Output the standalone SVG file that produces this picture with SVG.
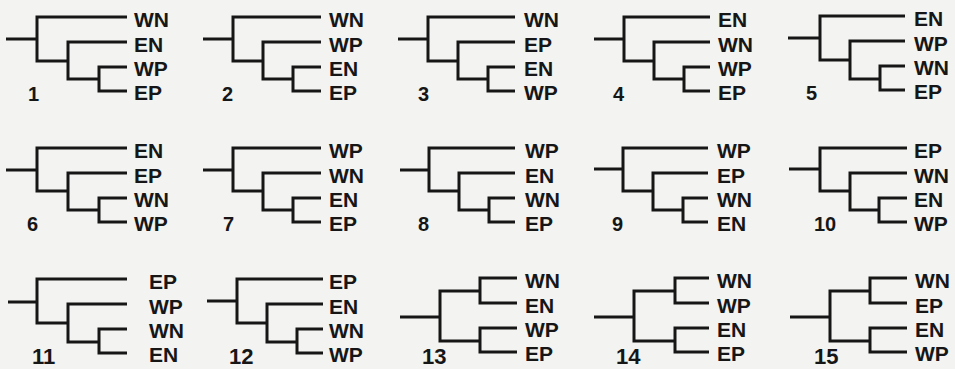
<svg xmlns="http://www.w3.org/2000/svg" width="955" height="369" viewBox="0 0 955 369">
<style>
.bg{fill:#f3f3f1}
.br{fill:none;stroke:#161616;stroke-width:3;stroke-linecap:butt;stroke-linejoin:miter}
.lb{font-family:"Liberation Sans",Arial,sans-serif;font-weight:bold;font-size:21px;fill:#161616}
.nm{font-family:"Liberation Sans",Arial,sans-serif;font-weight:bold;font-size:20px;fill:#161616}
.nm3{font-family:"Liberation Sans",Arial,sans-serif;font-weight:bold;font-size:22px;fill:#161616}
</style>
<rect class="bg" x="0" y="0" width="955" height="369"/>

<!-- Tree 1 -->
<g id="tree1">
<g class="connectors"><path class="br" d="M6 39H37M127 17H37V61H68M127 42H68V79H99M127 67H99V91H127"/></g>
<text class="lb" x="134" y="27">WN</text><text class="lb" x="134" y="52">EN</text><text class="lb" x="134" y="76">WP</text><text class="lb" x="134" y="100">EP</text>
<text class="nm" x="28" y="101">1</text>
</g>

<!-- Tree 2 -->
<g id="tree2">
<g class="connectors"><path class="br" d="M203 39H233M321 17H233V61H263M321 42H263V79H293M321 67H293V91H321"/></g>
<text class="lb" x="329" y="27">WN</text><text class="lb" x="329" y="52">WP</text><text class="lb" x="329" y="76">EN</text><text class="lb" x="329" y="100">EP</text>
<text class="nm" x="222" y="101">2</text>
</g>

<!-- Tree 3 -->
<g id="tree3">
<g class="connectors"><path class="br" d="M398 39H428M515 17H428V61H458M515 42H458V79H488M515 67H488V91H515"/></g>
<text class="lb" x="524" y="27">WN</text><text class="lb" x="524" y="52">EP</text><text class="lb" x="524" y="76">EN</text><text class="lb" x="524" y="100">WP</text>
<text class="nm" x="418" y="101">3</text>
</g>

<!-- Tree 4 -->
<g id="tree4">
<g class="connectors"><path class="br" d="M594 39H624M710 17H624V61H654M710 42H654V79H684M710 67H684V91H710"/></g>
<text class="lb" x="718" y="27">EN</text><text class="lb" x="718" y="52">WN</text><text class="lb" x="718" y="76">WP</text><text class="lb" x="718" y="100">EP</text>
<text class="nm" x="613" y="101">4</text>
</g>

<!-- Tree 5 -->
<g id="tree5">
<g class="connectors"><path class="br" d="M788 38H820M905 16H820V60H850M905 41H850V79H880M905 66H880V90H905"/></g>
<text class="lb" x="914" y="26">EN</text><text class="lb" x="914" y="51">WP</text><text class="lb" x="914" y="75">WN</text><text class="lb" x="914" y="99">EP</text>
<text class="nm" x="806" y="100">5</text>
</g>

<!-- Tree 6 -->
<g id="tree6">
<g class="connectors"><path class="br" d="M6 170H37M127 148H37V191H68M127 173H68V210H99M127 198H99V222H127"/></g>
<text class="lb" x="134" y="158">EN</text><text class="lb" x="134" y="183">EP</text><text class="lb" x="134" y="207">WN</text><text class="lb" x="134" y="231">WP</text>
<text class="nm" x="27" y="231">6</text>
</g>

<!-- Tree 7 -->
<g id="tree7">
<g class="connectors"><path class="br" d="M203 170H233M321 148H233V191H263M321 173H263V210H293M321 198H293V222H321"/></g>
<text class="lb" x="329" y="158">WP</text><text class="lb" x="329" y="183">WN</text><text class="lb" x="329" y="207">EN</text><text class="lb" x="329" y="231">EP</text>
<text class="nm" x="223" y="231">7</text>
</g>

<!-- Tree 8 -->
<g id="tree8">
<g class="connectors"><path class="br" d="M400 170H429M515 148H429V191H459M515 173H459V210H489M515 198H489V222H515"/></g>
<text class="lb" x="525" y="158">WP</text><text class="lb" x="525" y="183">EN</text><text class="lb" x="525" y="207">WN</text><text class="lb" x="525" y="231">EP</text>
<text class="nm" x="418" y="231">8</text>
</g>

<!-- Tree 9 -->
<g id="tree9">
<g class="connectors"><path class="br" d="M594 169H623M708 148H623V191H653M708 173H653V210H683M708 198H683V222H708"/></g>
<text class="lb" x="717" y="158">WP</text><text class="lb" x="717" y="183">EP</text><text class="lb" x="717" y="207">WN</text><text class="lb" x="717" y="231">EN</text>
<text class="nm" x="612" y="231">9</text>
</g>

<!-- Tree 10 -->
<g id="tree10">
<g class="connectors"><path class="br" d="M789 169H820M907 148H820V191H850M907 173H850V210H879M907 198H879V222H907"/></g>
<text class="lb" x="914" y="158">EP</text><text class="lb" x="914" y="183">WN</text><text class="lb" x="914" y="207">EN</text><text class="lb" x="914" y="231">WP</text>
<text class="nm" x="814" y="231">10</text>
</g>

<!-- Tree 11 -->
<g id="tree11">
<g class="connectors"><path class="br" d="M8 302H37M127 279H37V323H68M127 304H68V342H99M127 329H99V353H127"/></g>
<text class="lb" x="149" y="289">EP</text><text class="lb" x="149" y="314">WP</text><text class="lb" x="149" y="338">WN</text><text class="lb" x="149" y="362">EN</text>
<text class="nm3" x="32" y="364">11</text>
</g>

<!-- Tree 12 -->
<g id="tree12">
<g class="connectors"><path class="br" d="M207 301H237M323 279H237V323H267M323 304H267V342H297M323 329H297V353H323"/></g>
<text class="lb" x="329" y="289">EP</text><text class="lb" x="329" y="314">EN</text><text class="lb" x="329" y="338">WN</text><text class="lb" x="329" y="362">WP</text>
<text class="nm3" x="229" y="364">12</text>
</g>

<!-- Tree 13 -->
<g id="tree13">
<g class="connectors"><path class="br" d="M400 317H440M517 278H480V303H517M480 291H440V341H480M517 328H480V352H517"/></g>
<text class="lb" x="525" y="288">WN</text><text class="lb" x="525" y="313">EN</text><text class="lb" x="525" y="337">WP</text><text class="lb" x="525" y="361">EP</text>
<text class="nm3" x="422" y="364">13</text>
</g>

<!-- Tree 14 -->
<g id="tree14">
<g class="connectors"><path class="br" d="M594 317H634M709 278H675V303H709M675 291H634V341H675M709 328H675V352H709"/></g>
<text class="lb" x="717" y="288">WN</text><text class="lb" x="717" y="313">WP</text><text class="lb" x="717" y="337">EN</text><text class="lb" x="717" y="361">EP</text>
<text class="nm3" x="616" y="364">14</text>
</g>

<!-- Tree 15 -->
<g id="tree15">
<g class="connectors"><path class="br" d="M790 317H830M907 278H870V303H907M870 291H830V341H870M907 328H870V352H907"/></g>
<text class="lb" x="915" y="288">WN</text><text class="lb" x="915" y="313">EP</text><text class="lb" x="915" y="337">EN</text><text class="lb" x="915" y="361">WP</text>
<text class="nm3" x="814" y="364">15</text>
</g>
</svg>
